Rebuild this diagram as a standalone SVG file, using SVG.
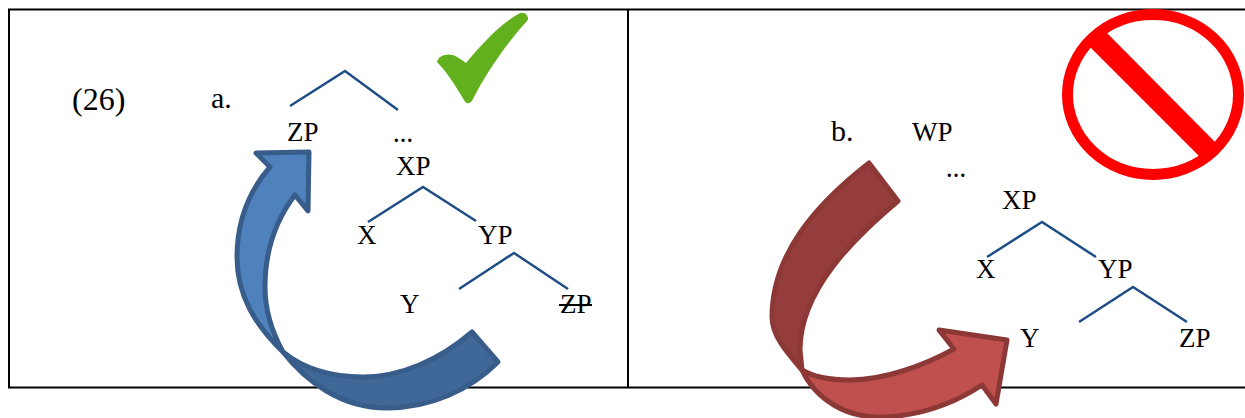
<svg xmlns="http://www.w3.org/2000/svg" width="1245" height="418" viewBox="0 0 1245 418">
<style>
text{font-family:"Liberation Serif",serif;font-size:27px;fill:#000}
.l{font-size:30px}
.n{font-size:32px}
.d{font-size:20px;font-weight:bold}
.t{fill:none;stroke:#1f4e86;stroke-width:2.500}
.f{fill:none;stroke:#000;stroke-width:2}
.b{stroke:#385d8a;stroke-width:5;stroke-linejoin:round}
.r{stroke:#8c3836;stroke-width:5;stroke-linejoin:round}
</style>
<rect width="1245" height="418" fill="#fff"/>
<g id="frame"><path class="f" d="M1245 9.500H9V387.500H1245M628 9.500V387.500"/></g>
<g id="connectors">
<path class="t" d="M290 106L345 71L398 110"/>
<path class="t" d="M368 222L423 187L476 221"/>
<path class="t" d="M459 289L514 253L568 289"/>
<path class="t" d="M987 257L1042 222L1096 257"/>
<path class="t" d="M1079 322L1133 287L1187 322"/>
</g>
<g id="labels">
<text class="n" x="72" y="110">(26)</text>
<text class="l" x="211" y="108">a.</text>
<text x="287" y="141">ZP</text>
<text class="d" x="393" y="142">…</text>
<text x="396" y="175">XP</text>
<text x="357" y="244">X</text>
<text x="478" y="244">YP</text>
<text x="400" y="313">Y</text>
<text x="560" y="313">ZP</text>
<path class="f" d="M559 305H592"/>
<text class="l" x="831" y="141">b.</text>
<text x="912" y="141">WP</text>
<text class="d" x="946" y="177">…</text>
<text x="1002" y="209">XP</text>
<text x="976" y="278">X</text>
<text x="1098" y="278">YP</text>
<text x="1020" y="347">Y</text>
<text x="1179" y="347">ZP</text>
</g>
<g id="blue-arrow">
<path class="b" fill="#3f6797" d="M283 352C305 380 340 408 387 408C430 408 470 390 498 362L472 332C440 360 400 377 363 377C335 377 305 370 283 352Z"/>
<path class="b" fill="#4f81bd" d="M256 153L309 152L308 211L295 195C272 225 265 258 265 287C265 310 272 332 283 352C255 325 237 295 237 257C237 220 250 190 270 167Z"/>
</g>
<g id="red-arrow">
<path class="r" fill="#c0504d" d="M802 370C815 398 845 419 885 417C925 415 955 403 982 385L996 404L1007 340L939 330L954 349C925 365 885 380 850 380C830 380 812 376 802 370Z"/>
<path class="r" fill="#953d3c" d="M869 163L898 201C855 237 800 290 800 350L802 370C785 350 772 335 772 317C772 255 815 205 869 163Z"/>
</g>
<g id="check"><path fill="#63b01e" d="M437 62C438 56 446 53 453 55C458 57 462 60 466 63C485 40 503 22 520 13C526 11 530 18 527 21C505 45 485 75 473 99C470 105 466 104 464 100C455 85 447 72 437 62Z"/></g>
<g id="prohibition">
<ellipse cx="1153" cy="94.500" rx="85.500" ry="80" fill="none" stroke="#f00" stroke-width="11"/>
<path fill="#f00" d="M1087 44L1104 30L1220 147L1203 160Z"/>
</g>
</svg>
